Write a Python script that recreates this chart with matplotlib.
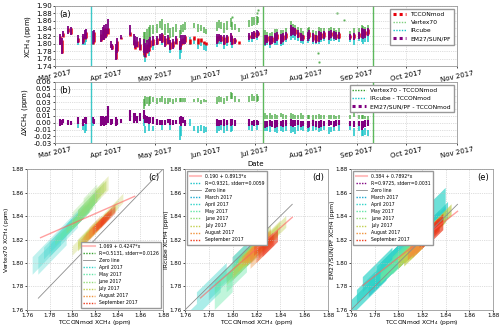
import numpy as np
import pandas as pd
import matplotlib
matplotlib.use("Agg")
import matplotlib.pyplot as plt
import matplotlib.dates as mdates
from matplotlib.lines import Line2D

n = np.nan

# observation days with the daily range of TCCONmod XCH4 (ppm)
obs_dates = [
    "2017-03-04", "2017-03-05", "2017-03-06", "2017-03-09", "2017-03-11", "2017-03-15", "2017-03-18", "2017-03-19", "2017-03-20", "2017-03-24",
    "2017-03-25", "2017-03-29", "2017-03-30", "2017-03-31", "2017-04-01", "2017-04-02", "2017-04-04", "2017-04-05", "2017-04-07", "2017-04-08",
    "2017-04-10", "2017-04-16", "2017-04-18", "2017-04-19", "2017-04-20", "2017-04-22", "2017-04-24", "2017-04-25", "2017-04-26", "2017-04-27",
    "2017-04-28", "2017-04-30", "2017-05-02", "2017-05-04", "2017-05-05", "2017-05-07", "2017-05-09", "2017-05-10", "2017-05-12", "2017-05-14",
    "2017-05-16", "2017-05-17", "2017-05-18", "2017-05-19", "2017-05-22", "2017-05-25", "2017-05-27", "2017-05-29", "2017-05-31", "2017-06-01",
    "2017-06-08", "2017-06-09", "2017-06-10", "2017-06-12", "2017-06-14", "2017-06-16", "2017-06-17", "2017-06-19", "2017-06-21", "2017-06-27",
    "2017-06-29", "2017-06-30", "2017-07-02", "2017-07-03", "2017-07-07", "2017-07-08", "2017-07-10", "2017-07-11", "2017-07-13", "2017-07-14",
    "2017-07-17", "2017-07-18", "2017-07-20", "2017-07-23", "2017-07-24", "2017-07-25", "2017-07-27", "2017-07-29", "2017-07-30", "2017-08-02",
    "2017-08-03", "2017-08-05", "2017-08-07", "2017-08-09", "2017-08-10", "2017-08-12", "2017-08-15", "2017-08-16", "2017-08-18", "2017-08-19",
    "2017-08-21", "2017-08-28", "2017-08-30", "2017-09-02", "2017-09-04", "2017-09-05", "2017-09-06", "2017-09-08"]

tccon_lo = [
    1.800, 1.775, 1.818, 1.830, 1.826, 1.803, 1.805, 1.812, 1.815, 1.800,
    1.805, 1.808, 1.812, 1.815, 1.820, 1.825, 1.792, 1.785, 1.760, 1.780,
    1.812, 1.820, 1.795, 1.785, 1.790, 1.782, 1.770, 1.765, 1.775, 1.780,
    1.790, 1.795, 1.800, 1.810, 1.805, 1.795, 1.800, 1.785, 1.790, 1.800,
    1.785, 1.795, 1.800, 1.805, 1.800, 1.810, 1.800, 1.805, 1.798, 1.795,
    1.805, 1.812, 1.808, 1.800, 1.805, 1.810, 1.800, 1.805, 1.800, 1.815,
    1.815, 1.818, 1.820, 1.822, 1.805, 1.808, 1.800, 1.805, 1.810, 1.812,
    1.805, 1.810, 1.815, 1.825, 1.828, 1.825, 1.818, 1.812, 1.812, 1.815,
    1.818, 1.810, 1.808, 1.812, 1.815, 1.818, 1.815, 1.820, 1.818, 1.814,
    1.815, 1.815, 1.815, 1.818, 1.825, 1.820, 1.822, 1.825]
tccon_hi = [
    1.820, 1.810, 1.828, 1.842, 1.840, 1.815, 1.820, 1.828, 1.830, 1.825,
    1.830, 1.825, 1.835, 1.840, 1.842, 1.840, 1.800, 1.795, 1.790, 1.808,
    1.818, 1.830, 1.810, 1.805, 1.808, 1.800, 1.795, 1.790, 1.800, 1.805,
    1.810, 1.812, 1.815, 1.822, 1.825, 1.815, 1.818, 1.805, 1.808, 1.815,
    1.800, 1.812, 1.815, 1.820, 1.812, 1.820, 1.815, 1.815, 1.808, 1.805,
    1.820, 1.822, 1.820, 1.818, 1.820, 1.822, 1.815, 1.812, 1.806, 1.822,
    1.828, 1.830, 1.832, 1.830, 1.822, 1.820, 1.815, 1.818, 1.825, 1.826,
    1.822, 1.824, 1.828, 1.845, 1.840, 1.838, 1.832, 1.826, 1.822, 1.828,
    1.832, 1.825, 1.822, 1.830, 1.828, 1.830, 1.830, 1.832, 1.830, 1.826,
    1.828, 1.822, 1.825, 1.828, 1.838, 1.835, 1.834, 1.838]

# daily range of (instrument - TCCONmod) in ppm
vtx_lo = [
    n, n, n, n, n, n, n, n, n, n,
    n, n, n, n, n, n, n, n, n, n,
    n, n, n, n, n, n, 0.020, 0.025, 0.028, 0.025,
    0.028, 0.030, 0.028, 0.030, 0.030, 0.028, 0.028, 0.030, 0.028, 0.030,
    0.030, 0.030, 0.030, 0.030, n, 0.030, 0.030, 0.028, 0.030, 0.030,
    0.028, 0.030, 0.030, 0.028, 0.032, 0.035, 0.035, 0.030, 0.030, 0.030,
    0.032, 0.032, 0.030, 0.032, 0.005, 0.005, 0.006, 0.005, 0.006, 0.005,
    0.008, 0.006, 0.006, 0.006, 0.005, 0.006, 0.005, 0.006, 0.006, 0.006,
    0.005, 0.004, 0.006, 0.006, 0.005, 0.005, 0.005, 0.006, 0.006, 0.005,
    0.006, 0.006, 0.008, 0.006, 0.005, 0.006, 0.005, 0.004]
vtx_hi = [
    n, n, n, n, n, n, n, n, n, n,
    n, n, n, n, n, n, n, n, n, n,
    n, n, n, n, n, n, 0.035, 0.040, 0.038, 0.038,
    0.040, 0.038, 0.036, 0.037, 0.040, 0.036, 0.036, 0.036, 0.035, 0.036,
    0.037, 0.036, 0.036, 0.036, n, 0.035, 0.036, 0.034, 0.035, 0.034,
    0.038, 0.040, 0.038, 0.036, 0.040, 0.045, 0.043, 0.040, 0.035, 0.040,
    0.042, 0.040, 0.042, 0.040, 0.015, 0.012, 0.014, 0.012, 0.013, 0.012,
    0.014, 0.013, 0.012, 0.014, 0.013, 0.012, 0.012, 0.014, 0.012, 0.012,
    0.012, 0.012, 0.012, 0.013, 0.012, 0.011, 0.012, 0.012, 0.012, 0.010,
    0.012, 0.012, 0.015, 0.012, 0.012, 0.012, 0.010, 0.010]
irc_lo = [
    n, n, n, n, n, -0.008, -0.010, -0.015, -0.012, -0.005,
    n, n, n, n, n, n, n, n, n, n,
    n, n, n, n, n, n, -0.005, -0.015, n, -0.012,
    n, -0.012, n, n, -0.010, n, n, -0.010, n, n,
    -0.025, -0.020, n, n, -0.005, -0.012, -0.015, -0.012, -0.015, -0.014,
    -0.015, -0.012, -0.010, -0.015, -0.012, -0.013, -0.012, n, n, -0.010,
    -0.012, n, -0.010, n, -0.012, -0.012, -0.013, n, -0.014, -0.015,
    -0.012, -0.013, -0.012, -0.015, -0.014, -0.016, -0.012, -0.010, -0.012, -0.014,
    -0.012, -0.012, -0.010, -0.014, -0.012, -0.010, -0.016, -0.014, -0.012, n,
    -0.012, -0.010, -0.020, -0.012, -0.020, -0.020, -0.018, -0.020]
irc_hi = [
    n, n, n, n, n, 0.000, 0.000, -0.002, 0.000, 0.005,
    n, n, n, n, n, n, n, n, n, n,
    n, n, n, n, n, n, 0.005, -0.005, n, 0.000,
    n, -0.005, n, n, -0.002, n, n, 0.000, n, n,
    -0.005, -0.005, n, n, 0.005, -0.005, -0.005, -0.004, -0.005, -0.006,
    0.000, -0.002, 0.000, -0.005, -0.002, -0.003, -0.003, n, n, 0.000,
    -0.004, n, 0.000, n, -0.002, -0.004, -0.005, n, -0.004, -0.005,
    -0.004, -0.003, -0.004, -0.005, -0.004, -0.006, -0.003, -0.002, -0.005, -0.004,
    -0.004, -0.004, -0.003, -0.004, -0.005, -0.003, -0.006, -0.006, -0.004, n,
    -0.004, -0.002, -0.008, -0.004, -0.010, -0.010, -0.008, -0.010]
em_lo = [
    -0.005, -0.004, 0.000, -0.004, -0.003, -0.002, -0.005, 0.000, -0.002, 0.000,
    -0.002, -0.005, -0.003, -0.005, -0.004, 0.000, -0.003, -0.002, -0.005, -0.004,
    0.000, 0.002, 0.000, 0.003, 0.000, 0.002, 0.005, 0.000, 0.000, -0.002,
    0.000, -0.002, -0.004, -0.003, -0.004, -0.003, 0.000, -0.003, -0.004, -0.002,
    -0.002, -0.005, 0.000, -0.005, n, n, n, n, n, n,
    -0.005, -0.005, -0.004, -0.005, -0.004, -0.005, -0.003, -0.005, n, -0.005,
    -0.004, -0.005, -0.004, -0.003, -0.008, -0.006, -0.005, -0.006, -0.008, -0.006,
    -0.005, -0.006, -0.005, -0.005, -0.006, -0.005, -0.004, -0.006, -0.005, -0.008,
    -0.006, -0.005, -0.006, -0.008, -0.006, -0.005, -0.005, -0.004, -0.006, -0.005,
    -0.004, -0.005, -0.006, -0.005, -0.010, -0.008, -0.006, -0.005]
em_hi = [
    0.005, 0.004, 0.006, 0.004, 0.003, 0.008, 0.005, 0.008, 0.008, 0.008,
    0.006, 0.010, 0.010, 0.008, 0.010, 0.024, 0.006, 0.005, 0.008, 0.006,
    0.006, 0.018, 0.015, 0.015, 0.010, 0.015, 0.018, 0.012, 0.010, 0.008,
    0.008, 0.008, 0.005, 0.004, 0.004, 0.004, 0.006, 0.005, 0.004, 0.004,
    0.008, 0.010, 0.008, 0.004, n, n, n, n, n, n,
    0.005, 0.004, 0.004, 0.005, 0.004, 0.005, 0.005, 0.004, n, 0.005,
    0.003, 0.004, 0.004, 0.003, 0.002, 0.003, 0.004, 0.002, 0.004, 0.004,
    0.003, 0.004, 0.004, 0.005, 0.004, 0.004, 0.004, 0.003, 0.002, 0.002,
    0.003, 0.004, 0.002, 0.003, 0.004, 0.003, 0.004, 0.003, 0.003, 0.004,
    0.004, 0.003, 0.002, 0.003, 0.002, 0.003, 0.004, 0.004]

# a few isolated Vertex70 points in panel (a)
vtx_out_dates = ["2017-07-02", "2017-07-03", "2017-06-17", "2017-08-08", "2017-08-09", "2017-08-20", "2017-08-24"]
vtx_out_vals = [1.880, 1.890, 1.870, 1.776, 1.750, 1.880, 1.862]

# linear fits shown in panels (c), (d), (e)
fit_a = [1.069, 0.190, 0.384]
fit_b = [0.4247, 0.8913, 0.7892]
fit_r = [0.5131, 0.9321, 0.9725]
fit_se = [0.0126, 0.0059, 0.0031]

month_names = ["March 2017", "April 2017", "May 2017", "June 2017",
               "July 2017", "August 2017", "September 2017"]
month_nums = [3, 4, 5, 6, 7, 8, 9]

# -------------------------------------------------------------------
dates = pd.to_datetime(obs_dates)
t_lo = np.array(tccon_lo)
t_hi = np.array(tccon_hi)

c_tccon = "#e8000b"
c_vtx = "#33a02c"
c_irc = "#17c3c8"
c_em = "#800080"
month_cols = ["#17a8d0", "#2fd3c8", "#63e6a6", "#92dc78", "#c2d04e", "#f0923a", "#ec3a1c"]

insts = [("Vertex70", np.array(vtx_lo), np.array(vtx_hi), c_vtx),
         ("IRcube", np.array(irc_lo), np.array(irc_hi), c_irc),
         ("EM27/SUN/PF", np.array(em_lo), np.array(em_hi), c_em)]

plt.rcParams["font.family"] = "DejaVu Sans"
fig = plt.figure(figsize=(5, 3.29), dpi=100)
ax_a = fig.add_axes([0.11, 0.799, 0.804, 0.183])
ax_b = fig.add_axes([0.11, 0.565, 0.804, 0.186])
ax_c = fig.add_axes([0.054, 0.058, 0.272, 0.428])
ax_d = fig.add_axes([0.370, 0.058, 0.286, 0.428])
ax_e = fig.add_axes([0.702, 0.058, 0.284, 0.428])


def style(ax, fs=5):
    ax.grid(True, ls=":", color="0.75", lw=0.5)
    ax.tick_params(labelsize=fs, length=1.5, width=0.5, pad=1)
    for s in ax.spines.values():
        s.set_color("0.6")
        s.set_linewidth(0.6)


# ---- (a) time series
ax_a.vlines(dates, t_lo + insts[0][1], t_hi + insts[0][2], color=c_vtx, lw=1.1, alpha=0.8)
ax_a.scatter(pd.to_datetime(vtx_out_dates), vtx_out_vals, s=0.6, color=c_vtx, alpha=0.6)
ax_a.vlines(dates, t_lo + insts[1][1], t_hi + insts[1][2], color=c_irc, lw=1.1)
ax_a.vlines(dates, t_lo, t_hi, color=c_tccon, lw=1.8)
ax_a.vlines(dates, t_lo + insts[2][1], t_hi + insts[2][2], color=c_em, lw=1.3)
ax_a.set_ylim(1.74, 1.90)
ax_a.set_yticks(np.arange(1.74, 1.901, 0.02))
ax_a.set_ylabel("XCH$_4$ (ppm)", fontsize=5, labelpad=2)
ax_a.text(0.01, 0.93, "(a)", transform=ax_a.transAxes, fontsize=6, va="top")
h_a = [Line2D([], [], color=c_tccon, ls=(0, (1, 1)), lw=2.2),
       Line2D([], [], color="#7fd07f", ls=(0, (1, 1)), lw=1.0),
       Line2D([], [], color=c_irc, ls=(0, (1, 1)), lw=1.0),
       Line2D([], [], color=c_em, ls=(0, (1, 1)), lw=2.2)]
ax_a.legend(h_a, ["TCCONmod", "Vertex70", "IRcube", "EM27/SUN/PF"], loc="upper right",
            fontsize=4.3, handlelength=2.2, borderpad=0.5, labelspacing=0.5,
            fancybox=False, edgecolor="0.6", framealpha=1)

# ---- (b) differences
ax_b.vlines(dates, insts[0][1], insts[0][2], color=c_vtx, lw=1.1, alpha=0.8)
ax_b.vlines(dates, insts[1][1], insts[1][2], color=c_irc, lw=1.1)
ax_b.vlines(dates, insts[2][1], insts[2][2], color=c_em, lw=1.5)
ax_b.set_ylim(-0.03, 0.06)
ax_b.set_yticks(np.arange(-0.03, 0.0601, 0.01))
ax_b.yaxis.set_major_formatter(plt.FormatStrFormatter("%.2f"))
ax_b.set_ylabel("$\\Delta$XCH$_4$ (ppm)", fontsize=5, labelpad=2)
ax_b.set_xlabel("Date", fontsize=5, labelpad=1)
ax_b.text(0.01, 0.93, "(b)", transform=ax_b.transAxes, fontsize=6, va="top")
h_b = [Line2D([], [], color=c_vtx, ls=(0, (1, 1)), lw=1.0),
       Line2D([], [], color=c_irc, ls=(0, (1, 1)), lw=1.0),
       Line2D([], [], color=c_em, ls=(0, (1, 1)), lw=2.2)]
ax_b.legend(h_b, ["Vertex70 - TCCONmod", "IRcube - TCCONmod", "EM27/SUN/PF - TCCONmod"],
            loc="upper right", fontsize=4.3, handlelength=2.2, borderpad=0.5, labelspacing=0.5,
            fancybox=False, edgecolor="0.6", framealpha=1)

for ax in (ax_a, ax_b):
    style(ax)
    ax.set_xlim(pd.Timestamp("2017-03-01"), pd.Timestamp("2017-11-01"))
    ax.xaxis.set_major_locator(mdates.MonthLocator())
    ax.xaxis.set_major_formatter(mdates.DateFormatter("%b %Y"))
    for lab in ax.get_xticklabels():
        lab.set_rotation(12)
        lab.set_ha("center")
    ax.axvline(pd.Timestamp("2017-03-23"), color="#3cc8c8", lw=1.0)
    ax.axvline(pd.Timestamp("2017-07-06"), color="#5cb85c", lw=1.0)
    ax.axvline(pd.Timestamp("2017-09-11"), color="#5cb85c", lw=1.0)

# ---- (c), (d), (e) scatter against TCCONmod
sc_axes = [ax_c, ax_d, ax_e]
sc_labels = ["Vertex70 XCH$_4$ (ppm)", "IRcube XCH4 (ppm)", "EM27/SUN/PF XCH4 (ppm)"]
sc_tags = ["(c)", "(d)", "(e)"]
sc_alpha = [0.3, 0.4, 0.7]
fit_ranges = [(1.772, 1.855), (1.773, 1.850), (1.770, 1.850)]
zero_ranges = [(1.770, 1.880), (1.760, 1.850), (1.760, 1.850)]
leg_locs = ["lower right", "upper left", "upper left"]

for k, ax in enumerate(sc_axes):
    name, dlo, dhi, col = insts[k]
    for i in range(len(dates)):
        if np.isnan(dlo[i]):
            continue
        mc = month_cols[month_nums.index(dates[i].month)]
        xs = [t_lo[i], t_hi[i], t_hi[i], t_lo[i]]
        ys = [t_lo[i] + dlo[i], t_hi[i] + dlo[i], t_hi[i] + dhi[i], t_lo[i] + dhi[i]]
        ax.fill(xs, ys, color=mc, alpha=sc_alpha[k], lw=0)
    fx = np.array(fit_ranges[k])
    ax.plot(fx, fit_a[k] + fit_b[k] * fx, color="#ff6060", lw=1.0, alpha=0.6)
    ax.plot(zero_ranges[k], zero_ranges[k], color="0.55", lw=0.6)
    ax.set_xlim(1.76, 1.88)
    ax.set_ylim(1.76, 1.88)
    ticks = np.arange(1.76, 1.8801, 0.02)
    ax.set_xticks(ticks)
    ax.set_yticks(ticks)
    ax.xaxis.set_major_formatter(plt.FormatStrFormatter("%.2f"))
    ax.yaxis.set_major_formatter(plt.FormatStrFormatter("%.2f"))
    style(ax, 4.0)
    ax.set_xlabel("TCCONmod XCH$_4$ (ppm)", fontsize=4.3, labelpad=0)
    ax.set_ylabel(sc_labels[k], fontsize=4.3, labelpad=0.5)
    ax.text(0.97, 0.975, sc_tags[k], transform=ax.transAxes, fontsize=6, ha="right", va="top")

    first = 1 if k == 0 else 0
    handles = [Line2D([], [], color="#ff8080", lw=1.5, alpha=0.5),
               Line2D([], [], color=col, ls=(0, (1, 1)), lw=1.0),
               Line2D([], [], color="0.55", lw=0.6)]
    labels = ["%.3f + %.4f*x" % (fit_a[k], fit_b[k]),
              "R=%.4f, stderr=%.4f" % (fit_r[k], fit_se[k]),
              "Zero line"]
    for m in range(first, len(month_names)):
        handles.append(Line2D([], [], color=month_cols[m], ls=(0, (1, 1)), lw=1.0))
        labels.append(month_names[m])
    ax.legend(handles, labels, loc=leg_locs[k], fontsize=3.3, handlelength=2.5,
              borderpad=0.5, labelspacing=0.45, fancybox=False, edgecolor="0.6",
              framealpha=1)

fig.savefig("out.png", dpi=100)
